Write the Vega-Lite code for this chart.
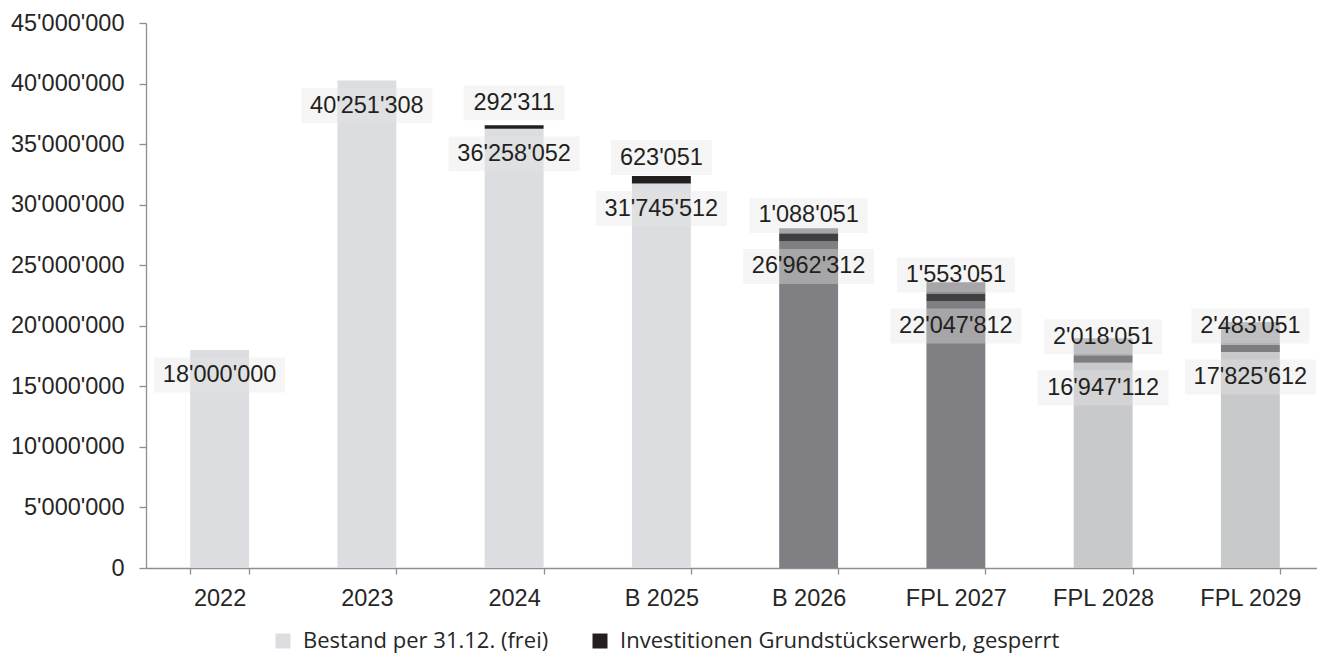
{
  "$schema": "https://vega.github.io/schema/vega-lite/v6.json",
  "autosize": {"type": "none"},
  "padding": {"left": 146, "top": 23, "right": 0, "bottom": 89},
  "width": 1178,
  "height": 545,
  "background": "#ffffff",
  "config": {
    "locale": {"number": {"decimal": ".", "thousands": "'", "grouping": [3], "currency": ["", ""]}},
    "view": {"stroke": null},
    "font": "Liberation Sans"
  },
  "datasets": {
    "segmente": [
      {"jahr": "2022", "kategorie": "Bestand per 31.12. (frei)", "schicht": 1, "wert": 18000000},
      {"jahr": "2023", "kategorie": "Bestand per 31.12. (frei)", "schicht": 1, "wert": 40251308},
      {"jahr": "2024", "kategorie": "Bestand per 31.12. (frei)", "schicht": 1, "wert": 36258052},
      {"jahr": "2024", "kategorie": "Investitionen Grundstückserwerb, gesperrt", "schicht": 2, "wert": 292311},
      {"jahr": "B 2025", "kategorie": "Bestand per 31.12. (frei)", "schicht": 1, "wert": 31745512},
      {"jahr": "B 2025", "kategorie": "Investitionen Grundstückserwerb, gesperrt", "schicht": 2, "wert": 623051},
      {"jahr": "B 2026", "kategorie": "Bestand (B 2026 / FPL 2027)", "schicht": 1, "wert": 26962312},
      {"jahr": "B 2026", "kategorie": "Gesperrt bisher (B 2026 / FPL 2027)", "schicht": 2, "wert": 623051},
      {"jahr": "B 2026", "kategorie": "Gesperrt neu (B 2026 / FPL 2027)", "schicht": 3, "wert": 465000},
      {"jahr": "FPL 2027", "kategorie": "Bestand (B 2026 / FPL 2027)", "schicht": 1, "wert": 22047812},
      {"jahr": "FPL 2027", "kategorie": "Gesperrt bisher (B 2026 / FPL 2027)", "schicht": 2, "wert": 623051},
      {"jahr": "FPL 2027", "kategorie": "Gesperrt neu (B 2026 / FPL 2027)", "schicht": 3, "wert": 930000},
      {"jahr": "FPL 2028", "kategorie": "Bestand (FPL 2028 / 2029)", "schicht": 1, "wert": 16947112},
      {"jahr": "FPL 2028", "kategorie": "Gesperrt bisher (FPL 2028 / 2029)", "schicht": 2, "wert": 623051},
      {"jahr": "FPL 2028", "kategorie": "Gesperrt neu (FPL 2028 / 2029)", "schicht": 3, "wert": 1395000},
      {"jahr": "FPL 2029", "kategorie": "Bestand (FPL 2028 / 2029)", "schicht": 1, "wert": 17825612},
      {"jahr": "FPL 2029", "kategorie": "Gesperrt bisher (FPL 2028 / 2029)", "schicht": 2, "wert": 623051},
      {"jahr": "FPL 2029", "kategorie": "Gesperrt neu (FPL 2028 / 2029)", "schicht": 3, "wert": 1860000}
    ],
    "beschriftung": [
      {"jahr": "2022", "bestand": 18000000, "gesperrt": 0},
      {"jahr": "2023", "bestand": 40251308, "gesperrt": 0},
      {"jahr": "2024", "bestand": 36258052, "gesperrt": 292311},
      {"jahr": "B 2025", "bestand": 31745512, "gesperrt": 623051},
      {"jahr": "B 2026", "bestand": 26962312, "gesperrt": 1088051},
      {"jahr": "FPL 2027", "bestand": 22047812, "gesperrt": 1553051},
      {"jahr": "FPL 2028", "bestand": 16947112, "gesperrt": 2018051},
      {"jahr": "FPL 2029", "bestand": 17825612, "gesperrt": 2483051}
    ]
  },
  "encoding": {
    "x": {
      "field": "jahr",
      "type": "nominal",
      "sort": ["2022", "2023", "2024", "B 2025", "B 2026", "FPL 2027", "FPL 2028", "FPL 2029"],
      "scale": {"paddingInner": 0.6, "paddingOuter": 0.3},
      "axis": {
        "title": null,
        "labelAngle": 0,
        "labelFont": "Liberation Sans",
        "labelFontSize": 23.5,
        "labelColor": "#262626",
        "labelPadding": 12,
        "tickBand": "extent",
        "tickSize": 6,
        "tickColor": "#8e8e8e",
        "tickWidth": 1.3,
        "domainColor": "#8e8e8e",
        "domainWidth": 1.3
      }
    }
  },
  "layer": [
    {
      "data": {"name": "segmente"},
      "mark": {"type": "bar", "strokeWidth": 0},
      "encoding": {
        "y": {
          "field": "wert",
          "type": "quantitative",
          "stack": "zero",
          "scale": {"domain": [0, 45000000], "nice": false},
          "axis": {
            "title": null,
            "format": ",d",
            "values": [0, 5000000, 10000000, 15000000, 20000000, 25000000, 30000000, 35000000, 40000000, 45000000],
            "grid": false,
            "labelFont": "Liberation Sans",
            "labelFontSize": 23.5,
            "labelColor": "#262626",
            "labelPadding": 15,
            "tickSize": 7,
            "tickColor": "#8e8e8e",
            "tickWidth": 1.3,
            "domainColor": "#8e8e8e",
            "domainWidth": 1.3
          }
        },
        "order": {"field": "schicht", "type": "quantitative", "sort": "ascending"},
        "color": {
          "field": "kategorie",
          "type": "nominal",
          "scale": {
            "domain": [
              "Bestand per 31.12. (frei)",
              "Investitionen Grundstückserwerb, gesperrt",
              "Bestand (B 2026 / FPL 2027)",
              "Gesperrt bisher (B 2026 / FPL 2027)",
              "Gesperrt neu (B 2026 / FPL 2027)",
              "Bestand (FPL 2028 / 2029)",
              "Gesperrt bisher (FPL 2028 / 2029)",
              "Gesperrt neu (FPL 2028 / 2029)"
            ],
            "range": ["#dcdde0", "#231f20", "#808084", "#404042", "#808084", "#c8c9cb", "#7d7d81", "#a9a9ab"]
          },
          "legend": {
            "title": null,
            "values": ["Bestand per 31.12. (frei)", "Investitionen Grundstückserwerb, gesperrt"],
            "orient": "none",
            "direction": "horizontal",
            "legendX": 126,
            "legendY": 607,
            "symbolType": "square",
            "symbolSize": 225,
            "symbolStrokeWidth": 0,
            "labelFont": "Open Sans",
            "labelFontSize": 22,
            "labelColor": "#262626",
            "labelOffset": 9,
            "columnPadding": 40,
            "labelLimit": 700
          }
        }
      }
    },
    {
      "data": {"name": "beschriftung"},
      "mark": {"type": "point", "shape": "M-1,-0.267H1V0.267H-1Z", "size": 17161, "filled": true, "fill": "#e6e6e6", "fillOpacity": 0.38, "strokeWidth": 0, "yOffset": 25},
      "encoding": {
        "y": {"field": "bestand", "type": "quantitative"}
      }
    },
    {
      "data": {"name": "beschriftung"},
      "transform": [{"filter": "datum.gesperrt > 0 && datum.gesperrt < 1000000"}],
      "mark": {"type": "point", "shape": "M-1,-0.3465H1V0.3465H-1Z", "size": 10201, "filled": true, "fill": "#e6e6e6", "fillOpacity": 0.38, "strokeWidth": 0, "yOffset": -26},
      "encoding": {
        "y": {"field": "bestand", "type": "quantitative"}
      }
    },
    {
      "data": {"name": "beschriftung"},
      "transform": [{"filter": "datum.gesperrt >= 1000000"}],
      "mark": {"type": "point", "shape": "M-1,-0.2966H1V0.2966H-1Z", "size": 13924, "filled": true, "fill": "#e6e6e6", "fillOpacity": 0.38, "strokeWidth": 0, "yOffset": -26},
      "encoding": {
        "y": {"field": "bestand", "type": "quantitative"}
      }
    },
    {
      "data": {"name": "beschriftung"},
      "mark": {"type": "text", "font": "Liberation Sans", "fontSize": 23.5, "color": "#231f20", "baseline": "middle", "align": "center", "yOffset": 25},
      "encoding": {
        "y": {"field": "bestand", "type": "quantitative"},
        "text": {"field": "bestand", "type": "quantitative", "format": ",d"}
      }
    },
    {
      "data": {"name": "beschriftung"},
      "transform": [{"filter": "datum.gesperrt > 0"}],
      "mark": {"type": "text", "font": "Liberation Sans", "fontSize": 23.5, "color": "#231f20", "baseline": "middle", "align": "center", "yOffset": -26},
      "encoding": {
        "y": {"field": "bestand", "type": "quantitative"},
        "text": {"field": "gesperrt", "type": "quantitative", "format": ",d"}
      }
    }
  ]
}
